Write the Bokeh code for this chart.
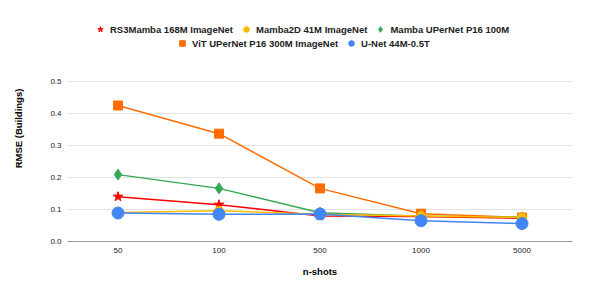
from bokeh.plotting import figure
from bokeh.models import Legend, LegendItem, FixedTicker, CustomJSTickFormatter
from bokeh.embed import file_html
from bokeh.resources import INLINE

shots = ["50", "100", "500", "1000", "5000"]
rs3mamba = [0.140, 0.115, 0.080, 0.078, 0.073]
mamba2d = [0.091, 0.096, 0.085, 0.080, 0.075]
mamba_upernet = [0.209, 0.166, 0.090, 0.079, 0.075]
vit_upernet = [0.425, 0.337, 0.166, 0.087, 0.075]
unet = [0.089, 0.085, 0.086, 0.065, 0.056]
y_ticks = [0.0, 0.1, 0.2, 0.3, 0.4, 0.5]

names = ["RS3Mamba 168M ImageNet", "Mamba2D 41M ImageNet", "Mamba UPerNet P16 100M",
         "ViT UPerNet P16 300M ImageNet", "U-Net 44M-0.5T"]
series = [rs3mamba, mamba2d, mamba_upernet, vit_upernet, unet]
colors = ["#ff0000", "#fbbc04", "#34a853", "#ff6d01", "#4285f4"]
markers = ["star", "circle", "diamond", "square", "circle"]
sizes = [10, 9, 11, 9, 12]

FONT = "Liberation Sans"
FRAME_H = 226          # frame extends above 0.5 to hold the legend rows
PX_PER_UNIT = 320      # 0.5 spans 160 px

p = figure(frame_width=505, frame_height=FRAME_H, x_range=shots,
           y_range=(0, FRAME_H / PX_PER_UNIT),
           output_backend="svg", toolbar_location=None,
           min_border_left=67, min_border_right=18, min_border_top=15, min_border_bottom=40)
p.outline_line_color = None

scat = {}
for i in [3, 2, 0, 1, 4]:
    p.line(shots, series[i], line_color=colors[i], line_width=1.5)
for i in [3, 2, 0, 1, 4]:
    scat[i] = p.scatter(shots, series[i], marker=markers[i], size=sizes[i],
                        fill_color=colors[i], line_color=colors[i])

p.xgrid.grid_line_color = None
p.ygrid.grid_line_color = "#e3e3e3"
p.ygrid.grid_line_width = 1
p.yaxis.ticker = FixedTicker(ticks=y_ticks)
p.yaxis.formatter = CustomJSTickFormatter(code="return tick.toFixed(1);")

for ax in [p.xaxis[0], p.yaxis[0]]:
    ax.major_tick_line_color = None
    ax.minor_tick_line_color = None
    ax.major_tick_out = 0
    ax.major_tick_in = 0
    ax.major_label_text_font = FONT
    ax.major_label_text_font_size = "8px"
    ax.major_label_text_color = "#222222"
    ax.axis_label_text_font = FONT
    ax.axis_label_text_font_style = "bold"
    ax.axis_label_text_font_size = "9.5px"
    ax.axis_label_text_color = "#000000"
p.yaxis.axis_line_color = None
p.xaxis.axis_line_color = "#999999"
p.xaxis.axis_label = "n-shots"
p.yaxis.axis_label = "RMSE (Buildings)"
p.xaxis.major_label_standoff = 6
p.yaxis.major_label_standoff = 6
p.xaxis.axis_label_standoff = 10
p.yaxis.axis_label_standoff = 23

def mk_legend(idxs, loc):
    lg = Legend(items=[LegendItem(label=names[i], renderers=[scat[i]]) for i in idxs],
                orientation="horizontal", location=loc,
                label_text_font=FONT, label_text_font_style="bold", label_text_font_size="9.5px",
                label_text_color="#222222", glyph_width=14, glyph_height=14,
                label_standoff=3, spacing=6, padding=0, margin=0,
                border_line_color=None, background_fill_alpha=0,
                label_height=12)
    return lg

p.add_layout(mk_legend([0, 1, 2], (26, 205)), "center")
p.add_layout(mk_legend([3, 4], (108, 191)), "center")

open("out.html", "w").write(file_html(p, INLINE))
